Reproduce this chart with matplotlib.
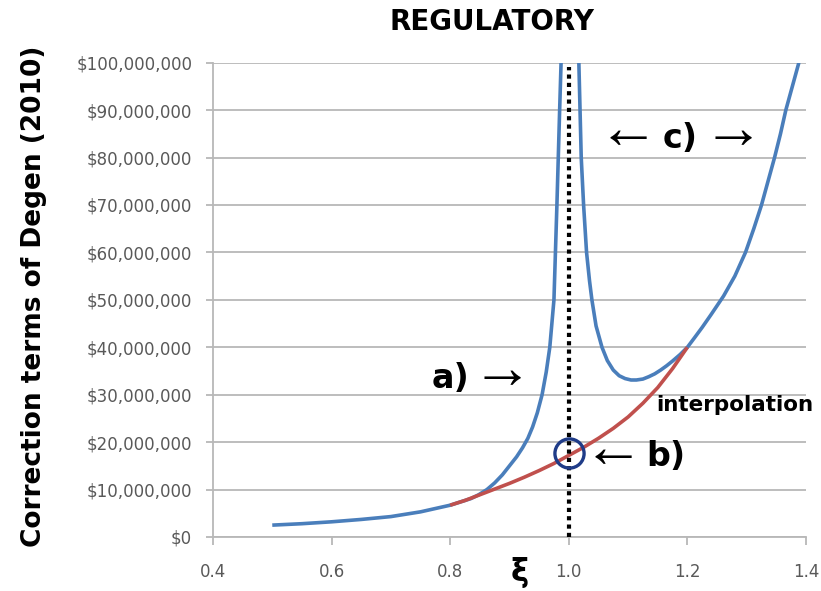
import numpy as np
import matplotlib
matplotlib.use('Agg')
import matplotlib.pyplot as plt
from matplotlib.ticker import FuncFormatter

# Werte (y in Mio. $)
xi_a = [0.50, 0.55, 0.60, 0.65, 0.70, 0.75, 0.80, 0.82, 0.835, 0.848, 0.862, 0.875,
        0.888, 0.900, 0.912, 0.922, 0.931, 0.939, 0.947, 0.955, 0.962, 0.968,
        0.975, 0.9775, 0.980, 0.9823, 0.9846, 0.987]
val_a = [2.5, 2.8, 3.2, 3.7, 4.3, 5.3, 6.7, 7.5, 8.1, 8.9, 10.0, 11.4,
         13.1, 15.0, 16.9, 18.8, 20.8, 23.2, 26.2, 30.0, 34.8, 40.0,
         50.0, 60.0, 70.0, 80.0, 90.0, 100.0]

xi_c = [1.017, 1.019, 1.021, 1.025, 1.030, 1.035, 1.039, 1.046, 1.056, 1.065, 1.075,
        1.085, 1.095, 1.105, 1.114, 1.125, 1.135, 1.145, 1.155, 1.165, 1.175, 1.188,
        1.200, 1.212, 1.225, 1.240, 1.261, 1.280, 1.298, 1.312, 1.325, 1.336, 1.347,
        1.357, 1.366, 1.377, 1.388]
val_c = [100.0, 90.0, 80.0, 70.0, 60.0, 54.0, 50.0, 44.5, 40.0, 37.2, 35.2,
         34.0, 33.4, 33.1, 33.1, 33.3, 33.8, 34.4, 35.2, 36.1, 37.1, 38.5,
         40.0, 42.0, 44.2, 46.9, 50.8, 55.0, 60.0, 65.0, 70.0, 75.0, 80.0,
         85.0, 90.0, 95.0, 100.0]

xi_interp = [0.800, 0.825, 0.850, 0.875, 0.900, 0.925, 0.950, 0.975, 1.000,
             1.025, 1.050, 1.075, 1.100, 1.125, 1.150, 1.175, 1.200]
val_interp = [6.7, 7.7, 8.9, 10.1, 11.3, 12.6, 14.0, 15.5, 17.2,
              18.9, 20.8, 22.9, 25.3, 28.2, 31.5, 35.5, 40.0]

xi_b = [1.0]
val_b = [17.8]

x_ticks = [0.4, 0.6, 0.8, 1.0, 1.2, 1.4]
y_ticks = np.arange(0, 101, 10)

blau = '#4A7EBB'
rot = '#C0504D'
grau = '#B8B8B8'
tick_grau = '#595959'

fig = plt.figure(figsize=(8.21, 5.91), dpi=100)
ax = fig.add_axes([0.2594, 0.0914, 0.9817 - 0.2594, 0.8939 - 0.0914])

ax.plot(xi_a, np.array(val_a) * 1e6, color=blau, lw=2.6, solid_capstyle='butt', zorder=3)
ax.plot(xi_c, np.array(val_c) * 1e6, color=blau, lw=2.6, solid_capstyle='butt', zorder=3)
ax.plot(xi_interp, np.array(val_interp) * 1e6, color=rot, lw=2.6, solid_capstyle='butt', zorder=4)

# gepunktete Linie bei xi = 1
ax.plot([1.0, 1.0], [0, 99e6], color='black', lw=3, linestyle=(0, (1, 1)),
        dash_capstyle='butt', zorder=5)

# Kreis b)
ax.plot(xi_b, np.array(val_b) * 1e6, 'o', ms=21, mfc='none', mec='#1F3C88', mew=2.4, zorder=6)

ax.set_xlim(0.4, 1.4)
ax.set_ylim(0, 100e6)
ax.set_xticks(x_ticks)
ax.set_xticklabels(['%.1f' % v for v in x_ticks])
ax.set_yticks(y_ticks * 1e6)
ax.yaxis.set_major_formatter(FuncFormatter(lambda v, p: '${:,.0f}'.format(v)))

ax.yaxis.grid(True, color=grau, lw=1.3)
ax.set_axisbelow(True)
for s in ['top', 'right']:
    ax.spines[s].set_visible(False)
for s in ['left', 'bottom']:
    ax.spines[s].set_color(grau)
    ax.spines[s].set_linewidth(1.3)
ax.tick_params(axis='y', length=5, width=1.3, color=grau, pad=10, labelsize=12, labelcolor=tick_grau)
ax.tick_params(axis='x', length=6, width=1.3, color=grau, pad=13, labelsize=12, labelcolor=tick_grau)

W, H = 821.0, 591.0
def px(x, y):
    return x / W, 1 - y / H

fig.text(*px(492, 22), 'REGULATORY', fontsize=20, fontweight='bold', ha='center', va='center')
fig.text(*px(34, 296), 'Correction terms of Degen (2010)', fontsize=19, fontweight='bold',
         rotation=90, ha='center', va='center')
fig.text(*px(520, 572), 'ξ', fontsize=22, fontweight='bold', ha='center', va='center')

pfeil = dict(family=['Liberation Serif', 'DejaVu Sans'], fontsize=44, ha='center', va='center')
fett = dict(fontsize=24, fontweight='bold', ha='center', va='center')

fig.text(*px(450, 378), 'a)', **fett)
fig.text(*px(502, 373), '→', **pfeil)
fig.text(*px(613, 452), '←', **pfeil)
fig.text(*px(666, 457), 'b)', **fett)
fig.text(*px(628, 133), '←', **pfeil)
fig.text(*px(680, 138), 'c)', **fett)
fig.text(*px(733, 133), '→', **pfeil)
fig.text(*px(735, 405), 'interpolation', fontsize=15.5, fontweight='bold', ha='center', va='center')

fig.savefig('out.png', dpi=100)
